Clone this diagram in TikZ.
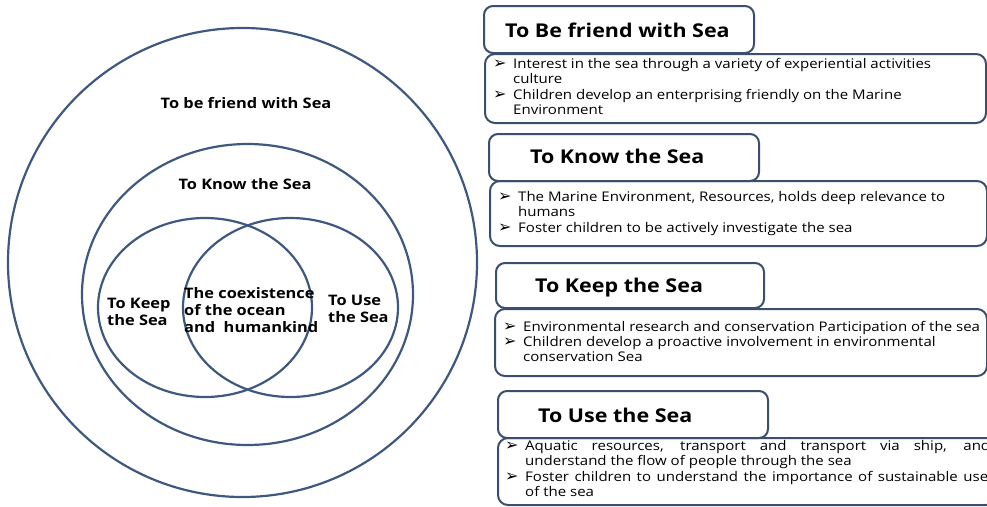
\documentclass[tikz,border=0pt]{standalone}
\usepackage{fontspec}
\setmainfont{Open Sans}
\newfontfamily\widef[FakeStretch=1.13]{Open Sans}
\newfontfamily\symf{DejaVu Sans}
\definecolor{circ}{RGB}{62,88,128}
\definecolor{boxc}{RGB}{58,78,110}
\begin{document}
\begin{tikzpicture}[x=1pt,y=-1pt,
 ring/.style={draw=circ,line width=2.2pt},
 lab/.style={font=\widef\fontsize{14.5}{17}\selectfont\bfseries,align=left,inner sep=0pt,text=black},
 head/.style={draw=boxc,line width=2pt,rounded corners=9pt,fill=white,anchor=north west,inner sep=0pt},
 body/.style={draw=boxc,line width=2pt,rounded corners=10pt,anchor=north west,inner sep=0pt},
 ttl/.style={font=\widef\fontsize{19}{20}\selectfont\bfseries,anchor=base west,inner sep=0pt},
 ln/.style={font=\widef\fontsize{13.3}{15}\selectfont,anchor=base west,inner sep=0pt},
 bl/.style={font=\symf\fontsize{16}{17}\selectfont,anchor=base west,inner sep=0pt}
]
\useasboundingbox (0,0) rectangle (987,506);
% circles
\draw[ring] (242.5,262.5) circle [radius=234.5];
\draw[ring] (247.5,294.5) ellipse [x radius=165.5,y radius=150.5];
\draw[ring] (205,307.5) ellipse [x radius=107,y radius=89.5];
\draw[ring] (290.5,307.5) ellipse [x radius=107.5,y radius=89.5];
\node[lab] (cfriend) at (246,103) {To be friend with Sea};
\node[lab] (cknow) at (245,184) {To Know the Sea};
\node[lab,anchor=west] (ckeep) at (107,312) {To Keep\\the Sea};
\node[lab,anchor=west] (ccoex) at (184,310) {The coexistence\\of the ocean\\and\ \ humankind};
\node[lab,anchor=west] (cuse) at (328,308.5) {To Use\\the Sea};
% box 1
\node[body,minimum width=501,minimum height=69] (b1) at (484,53) {};
\node[head,minimum width=270,minimum height=47] (h1) at (483,5) {};
\node[ttl] (t1) at (505,37) {To Be friend with Sea};
\node[bl] (p1a) at (493,68) {➢};
\node[ln] (l1a) at (513,68) {Interest in the sea through a variety of experiential activities};
\node[ln] (l1b) at (513,83) {culture};
\node[bl] (p1b) at (493,99) {➢};
\node[ln] (l1c) at (513,99) {Children develop an enterprising friendly on the Marine};
\node[ln] (l1d) at (513,114) {Environment};
% box 2
\node[body,minimum width=497,minimum height=65] (b2) at (489,180) {};
\node[head,minimum width=270,minimum height=47] (h2) at (488,133) {};
\node[ttl] (t2) at (530,163) {To Know the Sea};
\node[bl] (p2a) at (498,201) {➢};
\node[ln] (l2a) at (518,201) {The Marine Environment, Resources, holds deep relevance to};
\node[ln] (l2b) at (518,216) {humans};
\node[bl] (p2b) at (498,232) {➢};
\node[ln] (l2c) at (518,232) {Foster children to be actively investigate the sea};
% box 3
\node[body,minimum width=492,minimum height=67] (b3) at (494,308) {};
\node[head,minimum width=268,minimum height=45] (h3) at (495,262) {};
\node[ttl] (t3) at (535,292) {To Keep the Sea};
\node[bl] (p3a) at (503,331) {➢};
\node[ln] (l3a) at (523,331) {Environmental research and conservation Participation of the sea};
\node[bl] (p3b) at (503,346) {➢};
\node[ln] (l3b) at (523,346) {Children develop a proactive involvement in environmental};
\node[ln] (l3c) at (523,361) {conservation Sea};
% box 4
\node[body,minimum width=498,minimum height=67] (b4) at (497,437) {};
\node[head,minimum width=270,minimum height=47] (h4) at (497,390) {};
\node[ttl] (t4) at (538,422) {To Use the Sea};
\node[bl] (p4a) at (505,450) {➢};
\node[ln] (l4a) at (525,450) {\makebox[465pt][s]{Aquatic resources, transport and transport via ship, and}};
\node[ln] (l4b) at (525,465) {understand the flow of people through the sea};
\node[bl] (p4b) at (505,481) {➢};
\node[ln] (l4c) at (525,481) {\makebox[463pt][s]{Foster children to understand the importance of sustainable use}};
\node[ln] (l4d) at (525,496) {of the sea};
\end{tikzpicture}
\end{document}
